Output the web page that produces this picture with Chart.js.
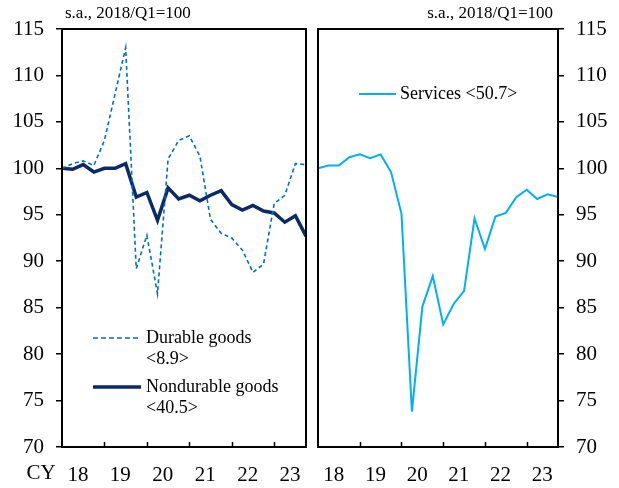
<!DOCTYPE html>
<html>
<head>
<meta charset="utf-8">
<script src="https://cdn.jsdelivr.net/npm/chart.js@4.4.0/dist/chart.umd.min.js"></script>
<style>
    html, body { margin: 0; padding: 0; background: #ffffff; }
    #wrap { position: relative; width: 619px; height: 488px; }
    #left_panel { position: absolute; left: 0; top: 0; }
    #right_panel { position: absolute; left: 312px; top: 0; }
</style>
</head>
<body>
<div id="wrap">
    <canvas id="left_panel" width="312" height="488"></canvas>
    <canvas id="right_panel" width="307" height="488"></canvas>
</div>
<script>
// quarters 2018/Q1 .. 2023/Q4
const quarters = [
    "2018Q1", "2018Q2", "2018Q3", "2018Q4",
    "2019Q1", "2019Q2", "2019Q3", "2019Q4",
    "2020Q1", "2020Q2", "2020Q3", "2020Q4",
    "2021Q1", "2021Q2", "2021Q3", "2021Q4",
    "2022Q1", "2022Q2", "2022Q3", "2022Q4",
    "2023Q1", "2023Q2", "2023Q3", "2023Q4"
];

const durableGoods = [
    100.0, 100.5, 100.8, 100.3, 103.0, 108.0, 113.0, 89.2,
    92.8, 86.5, 101.0, 103.0, 103.5, 101.3, 94.5, 93.0,
    92.5, 91.2, 88.8, 89.7, 96.2, 97.1, 100.5, 100.4
];

const nondurableGoods = [
    100.0, 99.9, 100.4, 99.6, 100.0, 100.0, 100.5, 96.9,
    97.4, 94.4, 97.9, 96.7, 97.1, 96.5, 97.1, 97.6,
    96.1, 95.5, 96.0, 95.4, 95.2, 94.2, 94.9, 92.7
];

const services = [
    100.0, 100.3, 100.3, 101.2, 101.5, 101.1, 101.5, 99.6,
    95.1, 73.8, 85.1, 88.4, 83.2, 85.4, 86.8, 94.6,
    91.3, 94.8, 95.2, 96.9, 97.7, 96.7, 97.2, 96.9
];

const yearLabels = ["18", "19", "20", "21", "22", "23"];
const yearLabelPos = [1.5, 5.5, 9.5, 13.5, 17.5, 21.5];
const yearStarts = [4, 8, 12, 16, 20];

const unitText = "s.a., 2018/Q1=100";

const SERIF = "'Liberation Serif', 'DejaVu Serif', serif";
const COLOR_DURABLE = "#0070c0";
const COLOR_NONDURABLE = "#0b2a66";
const COLOR_SERVICES = "#00b0f0";

function toPoints(values) {
    return values.map((v, i) => ({ x: i, y: v }));
}

// frame, inward year ticks, unit text and legend
function makeDecorPlugin(opts) {
    return {
        id: "decor",
        afterDraw(chart) {
            const ctx = chart.ctx;
            const area = chart.chartArea;
            const xs = chart.scales.x;

            ctx.save();
            ctx.strokeStyle = "#000000";
            ctx.lineWidth = 2;
            ctx.strokeRect(area.left, area.top, area.right - area.left, area.bottom - area.top);

            ctx.lineWidth = 1.5;
            yearStarts.forEach(v => {
                const px = Math.round(xs.getPixelForValue(v)) + 0.5;
                ctx.beginPath();
                ctx.moveTo(px, area.bottom);
                ctx.lineTo(px, area.bottom - 5);
                ctx.stroke();
            });

            ctx.fillStyle = "#000000";
            ctx.font = "17px " + SERIF;
            ctx.textBaseline = "middle";
            ctx.textAlign = opts.unitAlign;
            ctx.fillText(unitText, opts.unitX, 14);

            if (opts.cy) {
                ctx.font = "21px " + SERIF;
                ctx.textAlign = "center";
                ctx.fillText("CY", 41, 473);
            }

            ctx.font = "18px " + SERIF;
            ctx.textAlign = "left";
            opts.legend.forEach(item => {
                ctx.beginPath();
                ctx.strokeStyle = item.color;
                ctx.lineWidth = item.width;
                ctx.setLineDash(item.dash || []);
                ctx.moveTo(item.x, item.y);
                ctx.lineTo(item.x + item.len, item.y);
                ctx.stroke();
                ctx.setLineDash([]);
                item.lines.forEach((t, k) => {
                    ctx.fillText(t, item.x + item.len + item.gap, item.y + k * 21);
                });
            });
            ctx.restore();
        }
    };
}

function makeOptions(yPosition, yWidth, padding) {
    return {
        responsive: false,
        animation: false,
        events: [],

        layout: {
            padding: padding
        },

        scales: {
            x: {
                type: "linear",
                min: 0,
                max: 23,
                afterBuildTicks: function (scale) {
                    scale.ticks = yearLabelPos.map(v => ({ value: v }));
                },
                afterFit: function (scale) {
                    scale.height = 41;
                },
                grid: {
                    display: false
                },
                border: {
                    display: false
                },
                ticks: {
                    autoSkip: false,
                    maxRotation: 0,
                    padding: 8,
                    color: "#000000",
                    font: {
                        family: SERIF,
                        size: 21
                    },
                    callback: function (value) {
                        const idx = yearLabelPos.indexOf(value);
                        return idx >= 0 ? yearLabels[idx] : "";
                    }
                }
            },

            y: {
                position: yPosition,
                min: 70,
                max: 115,
                afterFit: function (scale) {
                    scale.width = yWidth;
                },
                grid: {
                    drawOnChartArea: false,
                    drawTicks: true,
                    tickLength: 6,
                    color: "#000000",
                    lineWidth: 1.5
                },
                border: {
                    display: false
                },
                ticks: {
                    stepSize: 5,
                    padding: 12,
                    color: "#000000",
                    font: {
                        family: SERIF,
                        size: 21
                    }
                }
            }
        },

        plugins: {
            legend: { display: false },
            tooltip: { enabled: false },
            title: { display: false }
        }
    };
}

new Chart(document.getElementById("left_panel"), {
    type: "line",
    data: {
        datasets: [
            {
                label: "Durable goods <8.9>",
                data: toPoints(durableGoods),
                borderColor: COLOR_DURABLE,
                borderWidth: 1.6,
                borderDash: [4, 3],
                pointRadius: 0,
                tension: 0
            },
            {
                label: "Nondurable goods <40.5>",
                data: toPoints(nondurableGoods),
                borderColor: COLOR_NONDURABLE,
                borderWidth: 3.5,
                pointRadius: 0,
                tension: 0
            }
        ]
    },
    options: makeOptions("left", 62, { top: 29, right: 6, left: 0, bottom: 0 }),
    plugins: [makeDecorPlugin({
        unitAlign: "left",
        unitX: 65,
        cy: true,
        legend: [
            { x: 93, y: 338, len: 48, gap: 5, color: COLOR_DURABLE, width: 1.6, dash: [5, 3], lines: ["Durable goods", "<8.9>"] },
            { x: 93, y: 387, len: 48, gap: 5, color: COLOR_NONDURABLE, width: 3.5, lines: ["Nondurable goods", "<40.5>"] }
        ]
    })]
});

new Chart(document.getElementById("right_panel"), {
    type: "line",
    data: {
        datasets: [
            {
                label: "Services <50.7>",
                data: toPoints(services),
                borderColor: COLOR_SERVICES,
                borderWidth: 2,
                pointRadius: 0,
                tension: 0
            }
        ]
    },
    options: makeOptions("right", 61, { top: 29, right: 0, left: 6, bottom: 0 }),
    plugins: [makeDecorPlugin({
        unitAlign: "right",
        unitX: 241,
        cy: false,
        legend: [
            { x: 47, y: 94, len: 37, gap: 4, color: COLOR_SERVICES, width: 2, lines: ["Services <50.7>"] }
        ]
    })]
});
</script>
</body>
</html>
